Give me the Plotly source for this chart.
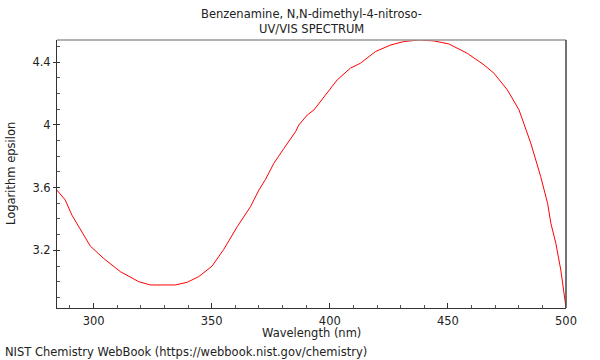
import plotly.graph_objects as go

wavelength_nm = [284.4, 288.0, 290.8, 294.4, 298.6, 304.2, 311.3, 319.1, 324.0, 334.6,
                 339.6, 344.5, 350.2, 355.1, 360.8, 366.4, 370.0, 372.8, 376.3, 380.6,
                 383.4, 385.5, 386.9, 390.5, 393.3, 396.1, 399.6, 403.1, 408.7, 413.0,
                 419.3, 425.7, 431.3, 437.7, 444.1, 450.4, 458.2, 465.3, 469.5, 475.2,
                 480.1, 485.1, 489.3, 492.2, 493.6, 495.7, 497.8, 500.0]
log_epsilon = [3.585, 3.521, 3.425, 3.330, 3.227, 3.149, 3.064, 3.000, 2.979, 2.979,
               2.996, 3.032, 3.100, 3.206, 3.351, 3.478, 3.585, 3.653, 3.755, 3.851,
               3.915, 3.957, 4.000, 4.064, 4.096, 4.149, 4.220, 4.287, 4.362, 4.394,
               4.468, 4.510, 4.532, 4.542, 4.536, 4.517, 4.457, 4.383, 4.330, 4.223,
               4.096, 3.883, 3.670, 3.500, 3.372, 3.245, 3.074, 2.834]

x_tick_vals = [300, 350, 400, 450, 500]
x_tick_text = ["300", "350", "400", "450", "500"]
y_tick_vals = [3.2, 3.6, 4.0, 4.4]
y_tick_text = ["3.2", "3.6", "4", "4.4"]

title_line1 = "Benzenamine, N,N-dimethyl-4-nitroso-"
title_line2 = "UV/VIS SPECTRUM"
x_title = "Wavelength (nm)"
y_title = "Logarithm epsilon"
footer = "NIST Chemistry WebBook (https://webbook.nist.gov/chemistry)"

FONT = "DejaVu Sans"
FS = 11.5
X_RANGE = [284.5, 500]
Y_RANGE = [2.832, 4.542]

fig = go.Figure()
fig.add_trace(go.Scatter(x=wavelength_nm, y=log_epsilon, mode="lines",
                         line=dict(color="#ff0000", width=1), showlegend=False,
                         hoverinfo="skip"))
# invisible trace to anchor the secondary y axis used for crossing tick marks
fig.add_trace(go.Scatter(x=[], y=[], yaxis="y2", showlegend=False))

fig.update_layout(
    width=600, height=360,
    margin=dict(l=57, r=34, t=40, b=52, pad=0),
    paper_bgcolor="white", plot_bgcolor="white",
    font=dict(family=FONT, size=FS, color="#222222"),
    xaxis=dict(range=X_RANGE, showgrid=False, zeroline=False,
               showline=True, linecolor="#333333", linewidth=1,
               tickvals=x_tick_vals, ticktext=x_tick_text,
               ticks="inside", ticklen=5, tickcolor="#333333", tickwidth=1,
               ticklabelstandoff=2,
               minor=dict(dtick=10, tick0=300, ticks="inside", ticklen=3,
                          tickcolor="#555555", showgrid=False),
               tickfont=dict(family=FONT, size=FS, color="#222222")),
    yaxis=dict(range=Y_RANGE, showgrid=False, zeroline=False,
               showline=True, linecolor="#333333", linewidth=1,
               tickvals=y_tick_vals, ticktext=y_tick_text,
               ticks="outside", ticklen=3, tickcolor="#333333", tickwidth=1,
               minor=dict(dtick=0.1, tick0=3.2, ticks="inside", ticklen=3,
                          tickcolor="#555555", showgrid=False),
               tickfont=dict(family=FONT, size=FS, color="#222222")),
    yaxis2=dict(range=Y_RANGE, overlaying="y", side="left", showgrid=False,
                zeroline=False, showline=False, tickvals=y_tick_vals,
                showticklabels=False, ticks="inside", ticklen=3,
                tickcolor="#333333", tickwidth=1),
    shapes=[
        dict(type="line", xref="paper", yref="paper", x0=0, x1=1, y0=1, y1=1,
             line=dict(color="#999999", width=1.5)),
        dict(type="line", xref="paper", yref="paper", x0=1, x1=1, y0=0, y1=1,
             line=dict(color="#444444", width=1.5)),
    ],
    annotations=[
        dict(text=title_line1, xref="paper", yref="paper", x=0.5, y=(308 - 14) / 268,
             showarrow=False, xanchor="center", yanchor="middle",
             font=dict(family=FONT, size=FS, color="#222222")),
        dict(text=title_line2, xref="paper", yref="paper", x=0.5, y=(308 - 29) / 268,
             showarrow=False, xanchor="center", yanchor="middle",
             font=dict(family=FONT, size=FS, color="#222222")),
        dict(text=x_title, xref="paper", yref="paper", x=0.5, y=(308 - 333) / 268,
             showarrow=False, xanchor="center", yanchor="middle",
             font=dict(family=FONT, size=FS, color="#222222")),
        dict(text=y_title, xref="paper", yref="paper", x=(11 - 57) / 509, y=0.5,
             showarrow=False, xanchor="center", yanchor="middle", textangle=-90,
             font=dict(family=FONT, size=FS, color="#222222")),
        dict(text=footer, xref="paper", yref="paper", x=(3 - 57) / 509,
             y=(308 - 351.5) / 268, showarrow=False, xanchor="left", yanchor="middle",
             font=dict(family=FONT, size=FS, color="#222222")),
    ],
)

fig.write_html("out.html", config={"displayModeBar": False},
               post_script="document.body.style.margin='0';")
